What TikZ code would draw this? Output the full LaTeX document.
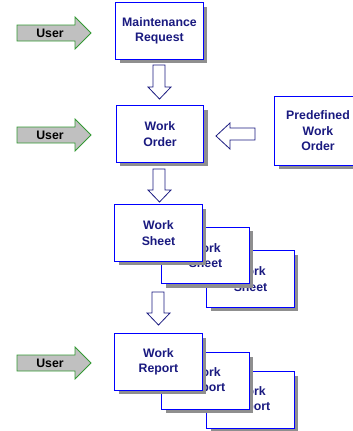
\documentclass[tikz,border=0pt]{standalone}
\usepackage{fontspec}
\setmainfont{Liberation Sans}
\definecolor{boxblue}{HTML}{0000FF}
\definecolor{navytext}{HTML}{1A1A80}
\definecolor{shadowgray}{HTML}{8F8F8F}
\definecolor{usergreen}{HTML}{339933}
\definecolor{userfill}{HTML}{C0C0C0}
\tikzset{
  docbox/.style={fill=white, inner sep=0pt,
    minimum width=87pt, minimum height=56pt, align=center,
    text=navytext, font=\fontsize{12.3}{15.6}\selectfont\bfseries},
  docborder/.style={draw=boxblue, line width=1pt},
  docshadow/.style={fill=shadowgray},
  blockarrow/.style={draw=navytext, fill=white, line width=0.8pt, line join=miter},
  userarrow/.style={draw=usergreen, fill=userfill, line width=0.8pt, line join=miter},
  usertext/.style={font=\fontsize{12.3}{14}\selectfont\bfseries, text=black, inner sep=0pt}
}
\newcommand{\docnode}[4][]{%
  \path (#3) node[docbox,#1,opacity=0] (tmp#2) {#4};
  \fill[docshadow] ([xshift=4pt,yshift=-4pt]tmp#2.south west) rectangle ([xshift=4pt,yshift=-4pt]tmp#2.north east);
  \node[docbox,#1] (#2) at (#3) {#4};
  \draw[docborder] (#2.south west) rectangle (#2.north east);
}
\begin{document}
\begin{tikzpicture}[x=1pt,y=-1pt]
\useasboundingbox (0,0) rectangle (353,431);
\clip (0,0) rectangle (353,431);
% boxes
\docnode{mr}{159.5,31}{Maintenance\\Request}
\docnode{wo}{160,134}{Work\\Order}
\docnode[minimum width=86pt, minimum height=68pt]{pwo}{318,131}{Predefined\\Work\\Order}
\docnode{ws3}{250.5,279}{Work\\Sheet}
\docnode{ws2}{205.5,255.5}{Work\\Sheet}
\docnode{ws1}{158.5,233}{Work\\Sheet}
\docnode{wr3}{250.5,400}{Work\\Report}
\docnode{wr2}{205.5,381}{Work\\Report}
\docnode{wr1}{158.5,362}{Work\\Report}
% down arrows
\draw[blockarrow] (153,65) -- (165,65) -- (165,87) -- (171,87) -- (159.5,99) -- (148,87) -- (153,87) -- cycle;
\draw[blockarrow] (153,169) -- (165,169) -- (165,190) -- (171,190) -- (159.5,202) -- (148,190) -- (153,190) -- cycle;
\draw[blockarrow] (152,292) -- (164,292) -- (164,313) -- (170,313) -- (158.5,325) -- (147,313) -- (152,313) -- cycle;
% left arrow
\draw[blockarrow] (255,128) -- (230,128) -- (230,123) -- (216,136) -- (230,149) -- (230,140) -- (255,140) -- cycle;
% user arrows
\foreach \yy/\nm in {33/u1,135/u2,363/u3}{
  \draw[userarrow] (17,\yy-8) -- (75,\yy-8) -- (75,\yy-16) -- (91,\yy) -- (75,\yy+16) -- (75,\yy+8) -- (17,\yy+8) -- cycle;
  \node[usertext] (\nm) at (50,\yy) {User};
}
\end{tikzpicture}
\end{document}
